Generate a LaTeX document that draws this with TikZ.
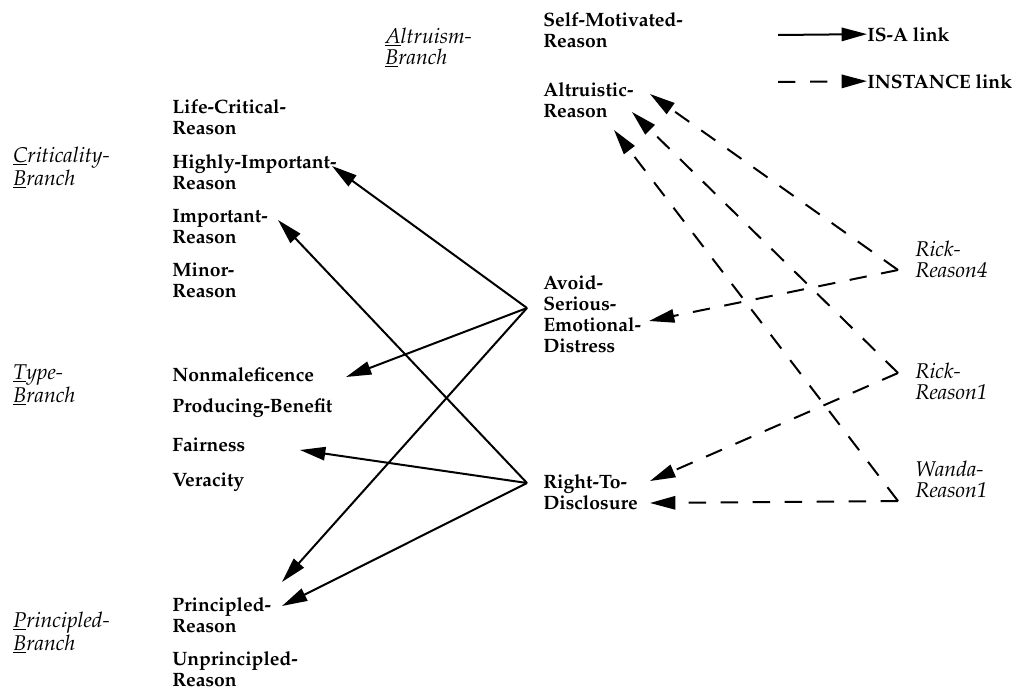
\documentclass[tikz,border=0pt]{standalone}
\usepackage[T1]{fontenc}
\renewcommand{\rmdefault}{ppl}
\usetikzlibrary{arrows.meta}
\newcommand{\fl}[1]{\underline{#1}}
% nodes are placed by the baseline of their last line
\tikzset{
  concept/.style={anchor=base west, inner sep=0pt, align=left,
    font=\fontsize{14.5}{15.75}\selectfont\bfseries},
  branch/.style={anchor=base west, inner sep=0pt, align=left,
    font=\fontsize{16}{15.75}\selectfont\itshape},
  inst/.style={branch},
  isalink/.style={line width=1.5pt, -{Triangle[length=19pt,width=10pt]}},
  instlink/.style={isalink, dash pattern=on 13pt off 11pt},
}
\begin{document}
\begin{tikzpicture}[x=0.75pt,y=-0.75pt]
\useasboundingbox (0,0) rectangle (1016,689);

% branch headings
\node[branch] (altb)   at (385,64)  {\fl{A}ltruism-\\\fl{B}ranch};
\node[branch] (critb)  at (13,185)  {\fl{C}riticality-\\\fl{B}ranch};
\node[branch] (typeb)  at (13,402)  {\fl{T}ype-\\\fl{B}ranch};
\node[branch] (princb) at (13,650)  {\fl{P}rincipled-\\\fl{B}ranch};

% left column of concepts
\node[concept] (life)  at (172,134) {Life-Critical-\\Reason};
\node[concept] (high)  at (172,189) {Highly-Important-\\Reason};
\node[concept] (imp)   at (172,243) {Important-\\Reason};
\node[concept] (minor) at (172,297) {Minor-\\Reason};
\node[concept] (nonm)  at (172,381) {Nonmaleficence};
\node[concept] (prod)  at (172,412) {Producing-Benefit};
\node[concept] (fair)  at (172,451) {Fairness};
\node[concept] (ver)   at (172,486) {Veracity};
\node[concept] (pr)    at (172,632) {Principled-\\Reason};
\node[concept] (unpr)  at (172,686) {Unprincipled-\\Reason};

% middle column
\node[concept] (self)  at (543,47)  {Self-Motivated-\\Reason};
\node[concept] (alt)   at (543,117) {Altruistic-\\Reason};
\node[concept] (avoid) at (543,352) {Avoid-\\Serious-\\Emotional-\\Distress};
\node[concept] (right) at (543,509) {Right-To-\\Disclosure};

% instances
\node[inst] (r4)    at (915,277) {Rick-\\Reason4};
\node[inst] (r1)    at (915,399) {Rick-\\Reason1};
\node[inst] (wanda) at (915,497) {Wanda-\\Reason1};

% legend
\node[concept] (isa)  at (867,41) {IS-A link};
\node[concept] (ins)  at (867,88) {INSTANCE link};
\coordinate (isaS) at (778,35);
\coordinate (insS) at (778,82);
\draw[isalink]  (isaS) -- (isa.west);
\draw[instlink] (insS) -- (ins.west);

% link end points
\coordinate (avoidL) at (527,308);
\coordinate (rightL) at (527,483);
\coordinate (r4L)    at (898,270);
\coordinate (r1L)    at (898,373);
\coordinate (wandaL) at (898,501);
\coordinate (highT)  at (332,166);
\coordinate (impT)   at (278,220);
\coordinate (nonmT)  at (346,377);
\coordinate (fairT)  at (300,450);
\coordinate (prT1)   at (282,582);
\coordinate (prT2)   at (282,606);
\coordinate (altT1)  at (650,94);
\coordinate (altT2)  at (632,112);
\coordinate (altT3)  at (614,130);
\coordinate (avoidT) at (649,321);
\coordinate (rightT1) at (650,481);
\coordinate (rightT2) at (650,503);

% IS-A links
\draw[isalink] (avoidL) -- (highT);
\draw[isalink] (avoidL) -- (nonmT);
\draw[isalink] (avoidL) -- (prT1);
\draw[isalink] (rightL) -- (impT);
\draw[isalink] (rightL) -- (fairT);
\draw[isalink] (rightL) -- (prT2);

% INSTANCE links
\draw[instlink] (r4L) -- (altT1);
\draw[instlink] (r4L) -- (avoidT);
\draw[instlink] (r1L) -- (altT2);
\draw[instlink] (r1L) -- (rightT1);
\draw[instlink] (wandaL) -- (altT3);
\draw[instlink] (wandaL) -- (rightT2);
\end{tikzpicture}
\end{document}
